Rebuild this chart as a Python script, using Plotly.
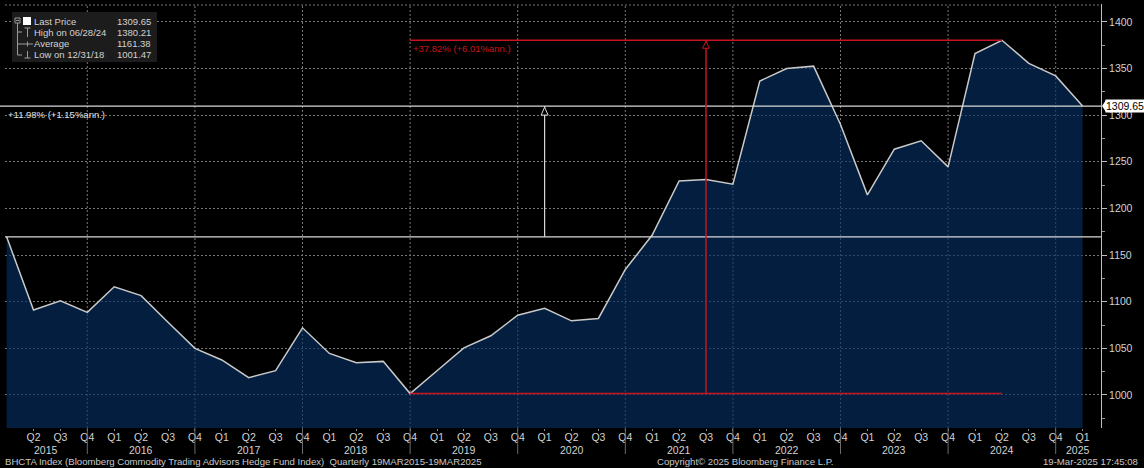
import plotly.graph_objects as go

# ---------------- data ----------------
quarter_labels = ["Q1", "Q2", "Q3", "Q4"] * 10 + ["Q1"]          # Q1 2015 .. Q1 2025
year_labels = ["2015", "2016", "2017", "2018", "2019", "2020",
               "2021", "2022", "2023", "2024", "2025"]
values = [1169.5, 1091.0, 1101.0, 1088.5,            # 2015
          1116.0, 1106.5, 1078.0, 1050.0,            # 2016
          1037.5, 1018.5, 1026.0, 1072.0,            # 2017
          1044.5, 1034.5, 1036.0, 1001.47,           # 2018
          1026.0, 1050.5, 1063.5, 1085.5,            # 2019
          1093.0, 1079.5, 1082.0, 1134.5,            # 2020
          1171.5, 1229.5, 1231.0, 1226.0,            # 2021
          1336.5, 1350.0, 1352.5, 1290.0,            # 2022
          1214.5, 1263.5, 1272.5, 1244.5,            # 2023
          1366.0, 1380.21, 1355.5, 1342.0,           # 2024
          1309.65]                                   # 2025 Q1
last_price = 1309.65
high_value, high_date = 1380.21, "06/28/24"
avg_value = 1161.38
low_value, low_date = 1001.47, "12/31/18"
chg_total_text = "+11.98% (+1.15%ann.)"
chg_hl_text = "+37.82% (+6.01%ann.)"
y_ticks = [1000, 1050, 1100, 1150, 1200, 1250, 1300, 1350, 1400]

x_idx = list(range(len(values)))
i_low = values.index(low_value)
i_high = values.index(high_value)
i_white_arrow = 20      # Q1 2020
i_red_arrow = 26        # Q3 2021
q4_idx = [i for i in x_idx if quarter_labels[i] == "Q4"]

# ---------------- layout geometry ----------------
W, H = 1144, 468
L, R, T, B = 5, 43, 4, 40
PW, PH = W - L - R, H - T - B
X_MIN, X_MAX = -0.06, 40.684
def PX(x):
    return (x - L) / PW
def PY(y):
    return (H - B - y) / PH

FONT = "Liberation Sans"
GRID = "#767676"
GDASH = "2px,2px"
TXT = "#d2d2d2"

fig = go.Figure()
fig.add_trace(go.Scatter(
    x=x_idx, y=values, mode="lines",
    line=dict(color="#c9c9c9", width=1.5),
    fill="tozeroy", fillcolor="rgba(4,47,98,0.64)",
    hoverinfo="skip", showlegend=False))

shapes = []
# vertical dotted grid at year ends + year separators below axis
for i in q4_idx:
    shapes.append(dict(type="line", xref="x", yref="paper", x0=i, x1=i, y0=0, y1=1,
                       line=dict(color=GRID, width=1, dash=GDASH), layer="below"))
    shapes.append(dict(type="line", xref="x", yref="paper", x0=i, x1=i, y0=0, y1=PY(454),
                       line=dict(color="#6a6a6a", width=1), layer="above"))
# dotted top border
shapes.append(dict(type="line", xref="paper", yref="paper", x0=0, x1=1, y0=PY(5), y1=PY(5),
                   line=dict(color=GRID, width=1, dash=GDASH), layer="below"))

# white lines: start value and last price
shapes.append(dict(type="line", xref="paper", yref="y", x0=0, x1=1, y0=values[0], y1=values[0],
                   line=dict(color="#d8d8d8", width=1.2)))
shapes.append(dict(type="line", xref="paper", yref="y", x0=PX(0), x1=1, y0=last_price, y1=last_price,
                   line=dict(color="#d8d8d8", width=1.2)))
# white arrow
shapes.append(dict(type="line", xref="x", yref="y", x0=i_white_arrow, x1=i_white_arrow,
                   y0=values[0], y1=last_price, line=dict(color="#d8d8d8", width=1.2)))
shapes.append(dict(type="path", xref="x", yref="y", xsizemode="pixel", ysizemode="pixel",
                   xanchor=i_white_arrow, yanchor=last_price,
                   path="M 0 -1 L -3.5 -9 L 3.5 -9 Z",
                   line=dict(color="#d8d8d8", width=1), fillcolor="black"))

# red high/low lines and arrow
RED = "#c8141e"
shapes.append(dict(type="line", xref="x", yref="y", x0=i_low, x1=i_high, y0=high_value, y1=high_value,
                   line=dict(color=RED, width=1.5)))
shapes.append(dict(type="line", xref="x", yref="y", x0=i_low, x1=i_high, y0=low_value, y1=low_value,
                   line=dict(color=RED, width=1.5)))
shapes.append(dict(type="line", xref="x", yref="y", x0=i_red_arrow, x1=i_red_arrow,
                   y0=low_value, y1=high_value, line=dict(color=RED, width=1.5)))
shapes.append(dict(type="path", xref="x", yref="y", xsizemode="pixel", ysizemode="pixel",
                   xanchor=i_red_arrow, yanchor=high_value,
                   path="M 0 -1 L -3.5 -8 L 3.5 -8 Z",
                   line=dict(color=RED, width=1), fillcolor="black"))

# last price tag notch
shapes.append(dict(type="path", xref="paper", yref="y", xsizemode="pixel", ysizemode="pixel",
                   xanchor=1, yanchor=last_price,
                   path="M 1 0 L 5 -6 L 5 6 Z", line=dict(color="white", width=0),
                   fillcolor="white"))

# legend box
shapes.append(dict(type="rect", xref="paper", yref="paper", x0=PX(12), x1=PX(157), y0=PY(12), y1=PY(62),
                   fillcolor="#1c1c1c", line=dict(width=0)))
LG = "#9a9a9a"
def seg(x0, y0, x1, y1, color=LG, w=1):
    shapes.append(dict(type="line", xref="paper", yref="paper", x0=PX(x0), x1=PX(x1),
                       y0=PY(y0), y1=PY(y1), line=dict(color=color, width=w)))
shapes.append(dict(type="rect", xref="paper", yref="paper", x0=PX(15), x1=PX(20), y0=PY(18), y1=PY(23),
                   line=dict(color=LG, width=1), fillcolor="#1c1c1c"))
seg(16, 20.5, 19, 20.5)
seg(17.5, 23, 17.5, 55)
seg(17.5, 32, 22, 32)
seg(17.5, 44, 22, 44)
seg(17.5, 55, 22, 55)
shapes.append(dict(type="rect", xref="paper", yref="paper", x0=PX(23), x1=PX(31), y0=PY(17), y1=PY(25),
                   line=dict(color="white", width=0), fillcolor="white"))
seg(24.5, 28, 30.5, 28)
seg(27.5, 28, 27.5, 37)
seg(22, 44, 33, 44)
seg(27.5, 41.5, 27.5, 46.5)
seg(27.5, 51, 27.5, 58)
seg(24.5, 58, 30.5, 58)

annotations = []
def txt(text, x, y, xanchor="left", size=10.5, color=TXT, xref="paper", yref="paper", **kw):
    annotations.append(dict(text=text, x=x, y=y, xref=xref, yref=yref, xanchor=xanchor,
                            yanchor="middle", showarrow=False,
                            font=dict(family=FONT, size=size, color=color), **kw))

legend_rows = [("Last Price", last_price, 21),
               ("High on " + high_date, high_value, 32.5),
               ("Average", avg_value, 44),
               ("Low on " + low_date, low_value, 55)]
for label, val, yy in legend_rows:
    txt(label, PX(32), PY(yy), size=9.5)
    txt(f"{val:.2f}", PX(153), PY(yy), xanchor="right", size=9.5)

# year labels
year_pos = [(X_MIN + q4_idx[0]) / 2] + [i + 2 for i in q4_idx[:-1]] + [(q4_idx[-1] + X_MAX) / 2]
for yl, xp in zip(year_labels, year_pos):
    txt(yl, xp, PY(449.5), xanchor="center", xref="x", size=10.5)

# footer
FC = "#c8c8c8"
txt("BHCTA Index (Bloomberg Commodity Trading Advisors Hedge Fund Index)  Quarterly 19MAR2015-19MAR2025",
    PX(3), PY(461.5), size=9.6, color=FC)
txt("Copyright\u00a9 2025 Bloomberg Finance L.P.", PX(745), PY(461.5), xanchor="center", size=9.6, color=FC)
txt("19-Mar-2025 17:45:08", PX(1140), PY(461.5), xanchor="right", size=9.6, color=FC)

# change texts
annotations.append(dict(text=chg_hl_text, x=i_low, y=high_value, xref="x", yref="y",
                        xanchor="left", yanchor="top", showarrow=False, xshift=1, yshift=-1,
                        font=dict(family=FONT, size=9.5, color=RED)))
annotations.append(dict(text=chg_total_text, x=0, y=last_price, xref="paper", yref="y",
                        xanchor="left", yanchor="top", showarrow=False, xshift=1, yshift=-1,
                        font=dict(family=FONT, size=9.5, color="#e0e0e0")))
# last price tag
annotations.append(dict(text=f"{last_price:.2f}", x=1, y=last_price, xref="paper", yref="y",
                        xanchor="left", yanchor="middle", showarrow=False, xshift=4,
                        bgcolor="white", borderpad=0,
                        font=dict(family=FONT, size=10.5, color="black")))

fig.update_layout(
    width=W, height=H, margin=dict(l=L, r=R, t=T, b=B),
    paper_bgcolor="black", plot_bgcolor="black",
    shapes=shapes, annotations=annotations, showlegend=False,
    xaxis=dict(range=[X_MIN, X_MAX], tickmode="array",
               tickvals=x_idx[1:], ticktext=quarter_labels[1:],
               ticks="outside", ticklen=2, tickcolor="#8a8a8a",
               ticklabelstandoff=-3,
               tickfont=dict(family=FONT, size=10.5, color=TXT),
               showgrid=False, zeroline=False, showline=False),
    yaxis=dict(range=[964.6, 1419.1], side="right", tickmode="array", tickvals=y_ticks,
               ticks="outside", ticklen=5, tickcolor="#bbbbbb",
               minor=dict(dtick=25, tick0=0, ticks="outside", ticklen=3, tickcolor="#999999",
                          showgrid=False),
               tickfont=dict(family=FONT, size=10.5, color=TXT),
               showgrid=True, gridcolor=GRID, griddash=GDASH, gridwidth=1,
               zeroline=False, showline=True, linecolor="#bdbdbd", linewidth=1),
)
fig.write_html("out.html", config={"displayModeBar": False},
               post_script="document.body.style.margin='0';document.body.style.background='black';")
